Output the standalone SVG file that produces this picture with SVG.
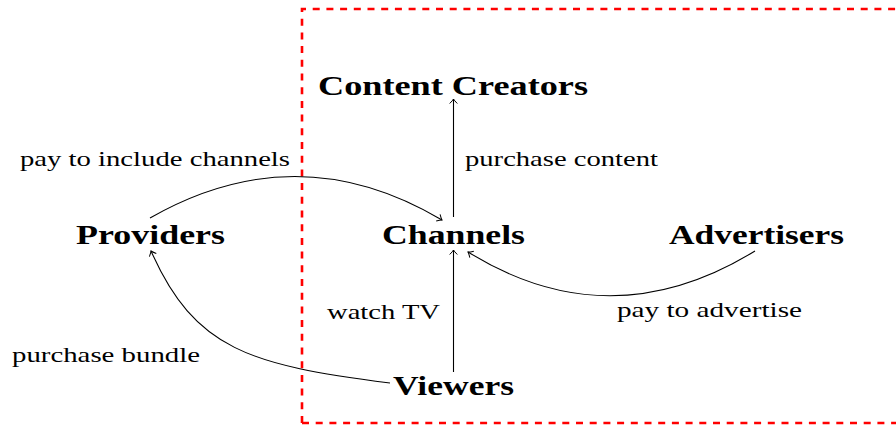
<svg xmlns="http://www.w3.org/2000/svg" width="896" height="425" viewBox="0 0 896 425">
<style>
.node{font-family:"Liberation Serif","Times New Roman",serif;font-weight:bold;font-size:27px;fill:#000}
.lbl{font-family:"Liberation Serif","Times New Roman",serif;font-size:21px;fill:#000}
.edge{fill:none;stroke:#000;stroke-width:1.1;marker-end:url(#arr)}
</style>
<defs>
<marker id="arr" markerUnits="userSpaceOnUse" markerWidth="12" markerHeight="12" refX="0" refY="0" viewBox="-6 -6 12 12" orient="auto" overflow="visible">
<path d="M-4.5,-3.8 Q-1.5,-0.8 0,0 Q-1.5,0.8 -4.5,3.8" fill="none" stroke="#000" stroke-width="1"/>
</marker>
</defs>
<rect x="0" y="0" width="896" height="425" fill="#fff"/>
<path d="M302,423 L302,9 L900,9 M302,423 L900,423" fill="none" stroke="#f00" stroke-width="2.6" stroke-dasharray="7,6.7"/>
<g id="connectors">
<path class="edge" d="M453.5,217 L453.5,99"/>
<path class="edge" d="M453.5,372 L453.5,250"/>
<path class="edge" d="M150,218 Q297,134 442,220"/>
<path class="edge" d="M755,251 Q610,340 468,252"/>
<path class="edge" d="M390,383 C250,365 195,350 151,251"/>
</g>
<g id="content-creators"><text class="node" x="318" y="95" textLength="270" lengthAdjust="spacingAndGlyphs">Content Creators</text></g>
<g id="providers"><text class="node" x="76" y="244" textLength="149" lengthAdjust="spacingAndGlyphs">Providers</text></g>
<g id="channels"><text class="node" x="382" y="244" textLength="143" lengthAdjust="spacingAndGlyphs">Channels</text></g>
<g id="advertisers"><text class="node" x="669" y="244" textLength="175" lengthAdjust="spacingAndGlyphs">Advertisers</text></g>
<g id="viewers"><text class="node" x="393" y="395" textLength="121" lengthAdjust="spacingAndGlyphs">Viewers</text></g>
<g id="labels">
<text class="lbl" x="20" y="166" textLength="270" lengthAdjust="spacingAndGlyphs">pay to include channels</text>
<text class="lbl" x="465" y="166" textLength="193" lengthAdjust="spacingAndGlyphs">purchase content</text>
<text class="lbl" x="327" y="319" textLength="113" lengthAdjust="spacingAndGlyphs">watch TV</text>
<text class="lbl" x="617" y="317" textLength="185" lengthAdjust="spacingAndGlyphs">pay to advertise</text>
<text class="lbl" x="12" y="362" textLength="188" lengthAdjust="spacingAndGlyphs">purchase bundle</text>
</g>
</svg>
